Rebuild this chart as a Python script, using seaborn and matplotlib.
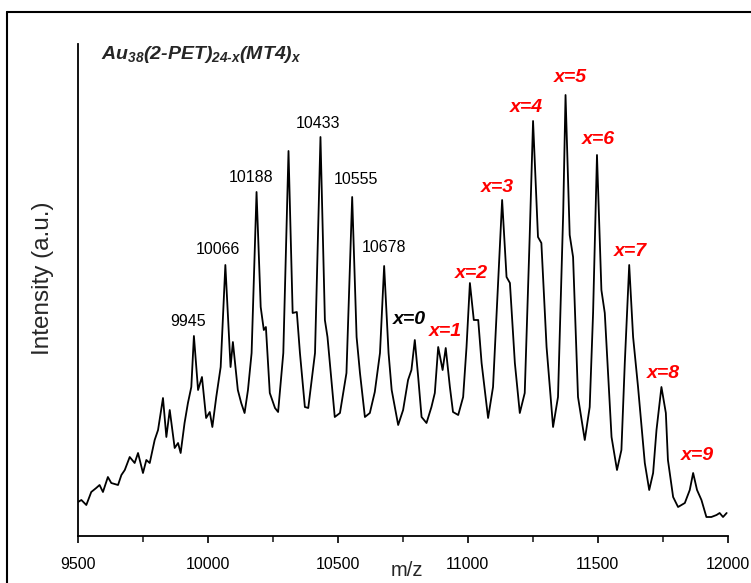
import numpy as np
import pandas as pd
import matplotlib
matplotlib.use("Agg")
import matplotlib.pyplot as plt
from matplotlib.lines import Line2D
import seaborn as sns

# ---- data ----
mz = [9500, 9513, 9532, 9551, 9570, 9583, 9596, 9615, 9628, 9654, 9667, 9680, 9699, 9718,
      9731, 9750, 9763, 9776, 9795, 9808, 9827, 9840, 9853, 9872, 9885, 9895, 9910, 9923,
      9936, 9946, 9962, 9977, 9993, 10007, 10017, 10032, 10049, 10067, 10087, 10096, 10115,
      10128, 10141, 10154, 10168, 10187, 10203, 10215, 10223, 10238, 10258, 10270, 10290,
      10310, 10326, 10342, 10354, 10373, 10386, 10412, 10433, 10450, 10460, 10476, 10488,
      10508, 10533, 10555, 10572, 10585, 10604, 10623, 10642, 10662, 10678, 10695, 10707,
      10732, 10751, 10770, 10783, 10796, 10809, 10822, 10841, 10860, 10873, 10886, 10903,
      10915, 10931, 10943, 10963, 10982, 10995, 11008, 11023, 11040, 11053, 11078, 11097,
      11117, 11132, 11149, 11162, 11181, 11200, 11219, 11238, 11251, 11270, 11283, 11303,
      11328, 11347, 11367, 11376, 11392, 11405, 11424, 11450, 11469, 11482, 11497, 11514,
      11527, 11553, 11574, 11591, 11604, 11621, 11636, 11655, 11681, 11698, 11713, 11726,
      11745, 11762, 11770, 11790, 11809, 11835, 11854, 11867, 11882, 11899, 11918, 11937,
      11957, 11969, 11982, 11996]
intensity = [34, 36, 31, 44, 48, 51, 44, 59, 53, 51, 61, 66, 79, 73,
             83, 63, 76, 73, 96, 106, 138, 99, 126, 88, 93, 83, 113, 133,
             149, 200, 146, 159, 118, 124, 109, 139, 169, 271, 169, 194, 146,
             133, 123, 146, 183, 344, 229, 206, 209, 143, 128, 124, 183,
             385, 223, 224, 183, 129, 128, 183, 399, 216, 199, 153, 119,
             123, 163, 339, 199, 163, 119, 123, 144, 183, 270, 183, 146,
             111, 126, 156, 166, 196, 159, 119, 113, 129, 143, 189, 166,
             188, 149, 124, 121, 139, 189, 253, 216, 216, 173, 118, 149,
             256, 336, 259, 253, 173, 123, 143, 299, 415, 299, 293, 189,
             109, 139, 323, 441, 301, 279, 139, 96, 129, 223, 381, 246,
             223, 99, 66, 86, 173, 271, 199, 149, 73, 46, 63, 106,
             149, 123, 76, 39, 29, 33, 46, 63, 46, 36, 19, 19,
             21, 23, 19, 23]

peak_labels = ["9945", "10066", "10188", "10433", "10555", "10678"]
peak_label_x = [9923, 10037, 10165, 10423, 10569, 10676]
peak_label_y = [214, 286, 359, 413, 357, 288]

x_labels = ["x=0", "x=1", "x=2", "x=3", "x=4", "x=5", "x=6", "x=7", "x=8", "x=9"]
x_label_x = [10777, 10915, 11012, 11115, 11227, 11396, 11504, 11627, 11754, 11883]
x_label_y = [217, 204, 263, 349, 429, 459, 396, 284, 163, 81]
x_label_colors = ["black"] + ["#ff0000"] * 9

xticks = [9500, 10000, 10500, 11000, 11500, 12000]
minor_xticks = [9750, 10250, 10750, 11250, 11750]

title = r"$\mathrm{Au_{38}(2\text{-}PET)_{24\text{-}x}(MT4)_x}$"

# ---- style ----
sns.set_style("white")
plt.rcParams["font.family"] = ["Liberation Sans", "DejaVu Sans"]
plt.rcParams["mathtext.fontset"] = "custom"
plt.rcParams["mathtext.rm"] = "Liberation Sans:bold:italic"
plt.rcParams["mathtext.it"] = "Liberation Sans:bold:italic"
plt.rcParams["mathtext.bf"] = "Liberation Sans:bold:italic"

fig = plt.figure(figsize=(7.51, 5.83), dpi=100)
ax = fig.add_axes([78 / 751, 47 / 583, (727.7 - 78) / 751, 492 / 583])

df = pd.DataFrame({"mz": mz, "intensity": intensity})
sns.lineplot(data=df, x="mz", y="intensity", color="black", lw=1.3,
             estimator=None, sort=False, ax=ax)

ax.set_xlim(9500, 12000)
ax.set_ylim(0, 492)
ax.set_xticks(xticks)
ax.set_xticks(minor_xticks, minor=True)
ax.set_yticks([])
ax.tick_params(axis="x", which="major", direction="out", length=5, width=1.2,
               labelsize=11.5, pad=10, colors="black", bottom=True)
ax.tick_params(axis="x", which="minor", direction="out", length=4, width=1.2, bottom=True)
for s in ["top", "right"]:
    ax.spines[s].set_visible(False)
for s in ["left", "bottom"]:
    ax.spines[s].set_color("black")
    ax.spines[s].set_linewidth(1.3)

ax.set_xlabel("m/z", fontsize=14.5, va="center")
ax.xaxis.set_label_coords(0.506, -0.071)
ax.set_ylabel("Intensity (a.u.)", fontsize=17.5, va="center")
ax.yaxis.set_label_coords(-0.054, 0.524)

ax.text(9587, 477, title, fontsize=14, ha="left", va="baseline")

for t, xx, yy in zip(peak_labels, peak_label_x, peak_label_y):
    ax.text(xx, yy, t, fontsize=11.5, ha="center", va="center", color="black")

for t, xx, yy, c in zip(x_labels, x_label_x, x_label_y, x_label_colors):
    ax.text(xx, yy, t, fontsize=14, ha="center", va="center", color=c,
            fontweight="bold", fontstyle="italic")

# figure frame (extends beyond the right/bottom edge in the reference)
fig.add_artist(Line2D([7 / 751, 1.0], [1 - 12 / 583, 1 - 12 / 583], color="black", lw=1.5))
fig.add_artist(Line2D([7 / 751, 7 / 751], [0.0, 1 - 12 / 583], color="black", lw=1.5))

fig.savefig("out.png", dpi=100, facecolor="white")
